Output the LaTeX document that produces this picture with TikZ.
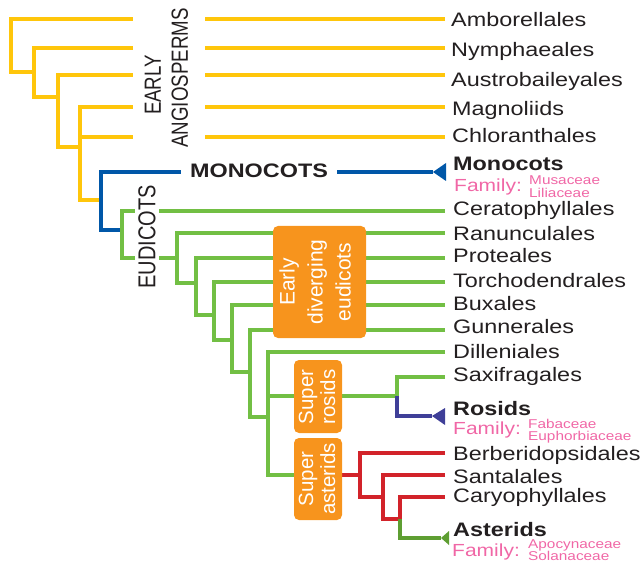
\documentclass[tikz,border=0pt]{standalone}
\usepackage{fontspec}
\setmainfont{Liberation Sans}[FakeStretch=1.2]
\newfontfamily\rotfont{Liberation Sans}
\usepackage{graphicx}
\definecolor{yel}{HTML}{FFC60B}
\definecolor{blu}{HTML}{0057A8}
\definecolor{grn}{HTML}{72BF44}
\definecolor{org}{HTML}{F7941D}
\definecolor{redb}{HTML}{D2232A}
\definecolor{pur}{HTML}{3F3F98}
\definecolor{dgrn}{HTML}{5E9E32}
\definecolor{pnk}{HTML}{F067A6}
\definecolor{txt}{HTML}{231F20}
\begin{document}
\begin{tikzpicture}[x=1pt,y=-1pt,line join=miter,
  br/.style={line width=4pt},
  lab/.style={anchor=base west,inner sep=0pt,font=\fontsize{19.5}{20}\selectfont,text=txt},
  blab/.style={anchor=base west,inner sep=0pt,font=\fontsize{19.5}{20}\selectfont\bfseries,text=txt},
  fam/.style={anchor=base west,inner sep=0pt,font=\fontsize{17.5}{18}\selectfont,text=pnk},
  sfam/.style={anchor=base west,inner sep=0pt,font=\fontsize{12.8}{13}\selectfont,text=pnk},
  obox/.style={fill=org,draw=none,rounded corners=5pt},
  otext/.style={text=white,rotate=90,align=center,inner sep=0pt}]
\useasboundingbox (0,0) rectangle (643,564);

% ---------- coordinates ----------
\foreach \n/\y in {Amb/19,Nym/48,Aus/75,Mag/107,Chl/137,Cer/211,Ran/233,Pro/258,Tor/282,Bux/305,Gun/330,Dil/352,Sax/377,Ber/453,San/475,Car/497}
  \coordinate (e\n) at (445,\y);
\coordinate (j1a) at (11,19);  \coordinate (j1b) at (11,72);
\coordinate (j2a) at (34,72);  \coordinate (j2b) at (34,97);
\coordinate (j3a) at (58,97);  \coordinate (j3b) at (58,147);
\coordinate (j4a) at (80,147); \coordinate (j4b) at (80,200);
\coordinate (b1) at (101,200); \coordinate (b1t) at (101,172); \coordinate (b1b) at (101,230);
\coordinate (eMon) at (433,172);
\coordinate (g1) at (122,230); \coordinate (g1b) at (122,258);
\coordinate (g2) at (177,258); \coordinate (g2b) at (177,283);
\coordinate (g3) at (196,283); \coordinate (g3b) at (196,315);
\coordinate (g4) at (214,315); \coordinate (g4b) at (214,340);
\coordinate (g5) at (232,340); \coordinate (g5b) at (232,372);
\coordinate (g6) at (250,372); \coordinate (g6b) at (250,417);
\coordinate (g7) at (268,417); \coordinate (g7r) at (268,396); \coordinate (g7b) at (268,475);
\coordinate (rj) at (397,396); \coordinate (rjb) at (397,416); \coordinate (eRos) at (432,416);
\coordinate (ab) at (342,475);
\coordinate (r1) at (360,475); \coordinate (r1b) at (360,497);
\coordinate (r2) at (383,497); \coordinate (r2b) at (383,519);
\coordinate (r3) at (400,519); \coordinate (r3b) at (400,538); \coordinate (eAst) at (441,538);

% ---------- yellow ----------
\draw[br,yel] (eAmb) -| (j1b) -- (j2a);
\draw[br,yel] (eNym) -| (j2b) -- (j3a);
\draw[br,yel] (eAus) -| (j3b) -- (j4a);
\draw[br,yel] (eMag) -| (j4b) -- (b1);
\draw[br,yel] (eChl) -- (80,137);
% ---------- blue ----------
\draw[br,blu] (eMon) -- (b1t) -- (b1b) -- (g1);
\fill[blu] (446,163) -- (446,181) -- (eMon) -- cycle;
% ---------- green ----------
\draw[br,grn] (eCer) -| (g1b) -- (g2);
\draw[br,grn] (eRan) -| (g2b) -- (g3);
\draw[br,grn] (ePro) -| (g3b) -- (g4);
\draw[br,grn] (eTor) -| (g4b) -- (g5);
\draw[br,grn] (eBux) -| (g5b) -- (g6);
\draw[br,grn] (eGun) -| (g6b) -- (g7);
\draw[br,grn] (eDil) -| (g7b) -- (ab);
\draw[br,grn] (g7r) -- (rj);
\draw[br,grn] (eSax) -| (rj);
\draw[br,pur] (rj) -- (rjb) -- (eRos);
\fill[pur] (445,408) -- (445,425) -- (eRos) -- cycle;
% ---------- red ----------
\draw[br,redb] (ab) -- (r1);
\draw[br,redb] (eBer) -| (r1b) -- (r2);
\draw[br,redb] (eSan) -| (r2b) -- (r3);
\draw[br,redb] (eCar) -| (r3);
\draw[br,dgrn] (r3) -- (r3b) -- (eAst);
\fill[dgrn] (449,531) -- (449,545) -- (eAst) -- cycle;

% ---------- group labels ----------
\node[fill=white,inner xsep=9pt,inner ysep=1pt] (early) at (169,78)
  {\scalebox{1.25}[1]{\rotatebox{90}{\rotfont\fontsize{18.7}{21.6}\selectfont\color{txt}%
   \begin{tabular}{@{}c@{}}EARLY\hspace*{14pt}\\ANGIOSPERMS\end{tabular}}}};
\node[fill=white,inner xsep=3pt,inner ysep=1pt] (eud) at (147,237)
  {\scalebox{1.22}[1]{\rotatebox{90}{\rotfont\fontsize{20}{20}\selectfont\color{txt}EUDICOTS}}};
\node[fill=white,inner xsep=9pt,inner ysep=1pt,font=\fontsize{19.5}{20}\selectfont\bfseries,text=txt] (mono) at (259,171) {MONOCOTS};

% ---------- orange boxes ----------
\fill[obox] (273,226) rectangle (366,338);
\node[otext,font=\rotfont\fontsize{21}{28}\selectfont] (edtxt) at (315,282) {Early\\diverging\\eudicots};
\fill[obox] (294,360) rectangle (342,433);
\node[otext,font=\rotfont\fontsize{20.5}{22}\selectfont] (srtxt) at (317,397) {Super\\rosids};
\fill[obox] (294,438) rectangle (342,520);
\node[otext,font=\rotfont\fontsize{20.5}{22}\selectfont] (satxt) at (317,479) {Super\\asterids};

% ---------- leaf labels ----------
\node[lab] (lAmb) at (451,27) {Amborellales};
\node[lab] (lNym) at (451,57) {Nymphaeales};
\node[lab] (lAus) at (451,87) {Austrobaileyales};
\node[lab] (lMag) at (452,116) {Magnoliids};
\node[lab] (lChl) at (452,143) {Chloranthales};
\node[blab] (lMon) at (453,171) {Monocots};
\node[fam] (fMon) at (454,192) {Family:};
\node[sfam] (s1) at (529,184.5) {Musaceae};
\node[sfam] (s2) at (529,197.5) {Liliaceae};
\node[lab] (lCer) at (453,216) {Ceratophyllales};
\node[lab] (lRan) at (453,241) {Ranunculales};
\node[lab] (lPro) at (453,263) {Proteales};
\node[lab] (lTor) at (453,288) {Torchodendrales};
\node[lab] (lBux) at (453,310) {Buxales};
\node[lab] (lGun) at (453,334) {Gunnerales};
\node[lab] (lDil) at (453,359) {Dilleniales};
\node[lab] (lSax) at (453,381) {Saxifragales};
\node[blab] (lRos) at (453,415) {Rosids};
\node[fam] (fRos) at (453,434) {Family:};
\node[sfam] (s3) at (528,428) {Fabaceae};
\node[sfam] (s4) at (528,440.5) {Euphorbiaceae};
\node[lab] (lBer) at (453,460.5) {Berberidopsidales};
\node[lab] (lSan) at (453,483) {Santalales};
\node[lab] (lCar) at (453,502) {Caryophyllales};
\node[blab] (lAst) at (453,536) {Asterids};
\node[fam] (fAst) at (452,556) {Family:};
\node[sfam] (s5) at (528,548.5) {Apocynaceae};
\node[sfam] (s6) at (528,560.5) {Solanaceae};
\end{tikzpicture}
\end{document}
